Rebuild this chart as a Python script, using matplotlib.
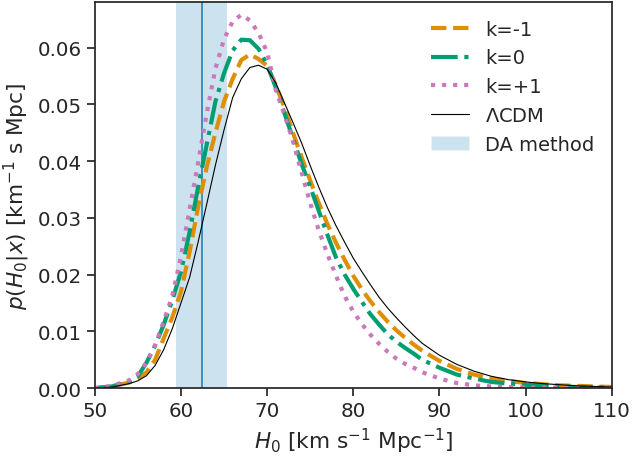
import matplotlib
matplotlib.use("Agg")
import matplotlib.pyplot as plt
import seaborn as sns
from matplotlib.patches import Patch

H0 = [50, 52, 54, 55, 56, 57, 58, 59, 60, 61, 62, 63, 64, 65, 66, 67, 68, 69, 70,
      71, 72, 73, 74, 75, 76, 77, 78, 79, 80, 81, 82, 83, 84, 85, 86, 87, 88,
      90, 92, 94, 96, 98, 100, 102, 104, 106, 108, 110]

p_lcdm = [0.0000, 0.0002, 0.0008, 0.0013, 0.0022, 0.0040, 0.0068, 0.0105, 0.0150, 0.0195,
          0.0258, 0.0325, 0.0393, 0.0455, 0.0512, 0.0545, 0.0565, 0.0569, 0.0562,
          0.0538, 0.0503, 0.0468, 0.0432, 0.0392, 0.0354, 0.0318, 0.0286, 0.0257, 0.0229,
          0.0205, 0.0182, 0.0160, 0.0141, 0.0124, 0.0108, 0.0093, 0.0079,
          0.0058, 0.0042, 0.0030, 0.0021, 0.0015, 0.0011, 0.0008, 0.0006, 0.0004, 0.0003, 0.0002]

p_km1 = [0.0000, 0.0003, 0.0010, 0.0017, 0.0028, 0.0050, 0.0088, 0.0125, 0.0170, 0.0240,
         0.0320, 0.0390, 0.0450, 0.0505, 0.0545, 0.0578, 0.0588, 0.0580, 0.0568,
         0.0534, 0.0495, 0.0450, 0.0407, 0.0366, 0.0326, 0.0289, 0.0256, 0.0226, 0.0198,
         0.0174, 0.0153, 0.0134, 0.0117, 0.0102, 0.0089, 0.0077, 0.0066,
         0.0048, 0.0034, 0.0024, 0.0017, 0.0013, 0.0009, 0.0007, 0.0005, 0.0004, 0.0003, 0.0002]

p_k0 = [0.0000, 0.0003, 0.0012, 0.0021, 0.0045, 0.0075, 0.0112, 0.0155, 0.0205, 0.0275,
        0.0355, 0.0430, 0.0505, 0.0555, 0.0595, 0.0614, 0.0613, 0.0598, 0.0570,
        0.0530, 0.0485, 0.0440, 0.0395, 0.0355, 0.0312, 0.0270, 0.0230, 0.0200, 0.0175,
        0.0152, 0.0130, 0.0112, 0.0095, 0.0082, 0.0071, 0.0061, 0.0050,
        0.0036, 0.0024, 0.0017, 0.0011, 0.0008, 0.0006, 0.0004, 0.0003, 0.0002, 0.0002, 0.0001]

p_kp1 = [0.0000, 0.0004, 0.0014, 0.0025, 0.0045, 0.0076, 0.0118, 0.0163, 0.0232, 0.0315,
         0.0398, 0.0485, 0.0563, 0.0615, 0.0646, 0.0658, 0.0648, 0.0626, 0.0592,
         0.0526, 0.0482, 0.0435, 0.0380, 0.0326, 0.0278, 0.0236, 0.0198, 0.0162, 0.0135,
         0.0113, 0.0094, 0.0078, 0.0064, 0.0052, 0.0043, 0.0036, 0.0028,
         0.0017, 0.0009, 0.0005, 0.0003, 0.0002, 0.0001, 0.0001, 0.0001, 0.0001, 0.0001, 0.0001]

da_center = 62.4
da_low = 59.4
da_high = 65.4

sns.set_theme(style="ticks", font_scale=1.3)
plt.rcParams['font.family'] = ['DejaVu Sans']

fig = plt.figure(figsize=(6.32, 4.60), dpi=100)
ax = fig.add_axes([0.150, 0.154, 0.818, 0.839])

ax.axvspan(da_low, da_high, color='#0173b2', alpha=0.2, lw=0)
ax.axvline(da_center, color='#0173b2', alpha=0.85, lw=1.2)

l1, = ax.plot(H0, p_km1, color='#de8f05', ls='--', lw=3, label='k=-1')
l2, = ax.plot(H0, p_k0, color='#029e73', ls='-.', lw=3, label='k=0')
l3, = ax.plot(H0, p_kp1, color='#cc78bc', ls=':', lw=3, label='k=+1')
l4, = ax.plot(H0, p_lcdm, color='black', ls='-', lw=0.8, label=r'$\Lambda$CDM')
patch = Patch(facecolor='#0173b2', alpha=0.2, label='DA method')

ax.set_xlim(50, 110)
ax.set_ylim(0, 0.068)
ax.set_yticks([0.00, 0.01, 0.02, 0.03, 0.04, 0.05, 0.06])
ax.set_xlabel(r'$H_0$ [km s$^{-1}$ Mpc$^{-1}$]')
ax.set_ylabel(r'$p(H_0|x)$ [km$^{-1}$ s Mpc]')

ax.legend(handles=[l1, l2, l3, l4, patch], loc='upper right', frameon=False,
          fontsize=14, bbox_to_anchor=(1.0, 1.0))

fig.savefig('out.png', dpi=100)
